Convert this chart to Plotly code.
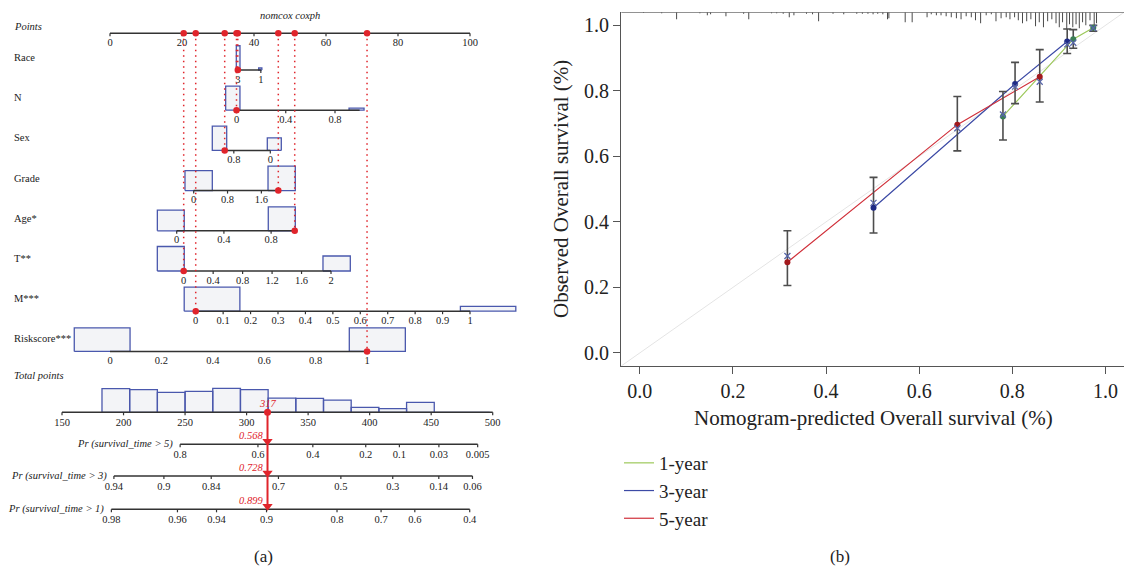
import numpy as np
import plotly.graph_objects as go

# ======================= DATA: nomogram =======================
VAR_NAMES = ["Race", "N", "Sex", "Grade", "Age*", "T**", "M***", "Riskscore***"]
# points given at value 0, and points per unit of each predictor
VAR_PTS0 = [45.1, 35.14, 44.53, 23.25, 18.53, 20.47, 23.81, 0.0]
VAR_SLOPE = [-3.2, 34.2, -12.67, 11.75, 32.78, 20.46, 76.19, 71.4]
VAR_RANGE = [[1, 3], [0, 1], [0, 1], [0, 2], [0, 1], [0, 2], [0, 1], [0, 1]]
VAR_TICKS = [
    [3, 1],
    [0, 0.4, 0.8],
    [0.8, 0],
    [0, 0.8, 1.6],
    [0, 0.4, 0.8],
    [0, 0.4, 0.8, 1.2, 1.6, 2],
    [0, 0.1, 0.2, 0.3, 0.4, 0.5, 0.6, 0.7, 0.8, 0.9, 1],
    [0, 0.2, 0.4, 0.6, 0.8, 1],
]
VAR_TICK_MARKS = [True, True, True, True, True, True, True, False]
VAR_SELECTED = [3, 0, 1, 2, 1, 0, 0, 1]
VAR_BOX_LO = [[2.81, 0.91], [-0.088, 0.914], [0.956, -0.241], [-0.206, 1.757],
              [-0.164, 0.776], [-0.358, 1.891], [-0.042, 0.965], [-0.139, 0.931]]
VAR_BOX_HI = [[3.13, 1.19], [0.028, 1.036], [1.272, 0.066], [0.44, 2.402],
              [0.064, 1.005], [0.008, 2.262], [0.161, 1.167], [0.078, 1.149]]
VAR_BOX_FREQ = [[0.97, 0.08], [0.96, 0.08], [0.97, 0.50], [0.80, 0.98],
                [0.83, 0.96], [0.98, 0.60], [0.96, 0.19], [0.94, 0.94]]

POINT_TICKS = [0, 20, 40, 60, 80, 100]

TOTAL_TICKS = [150, 200, 250, 300, 350, 400, 450, 500]
TOTAL_BIN_EDGES = [182.5, 205, 227.5, 250, 272.5, 295, 317.5, 340, 362.5,
                   385, 407.5, 430, 452.5, 475, 497.5]
TOTAL_BIN_FREQ = [0.95, 0.91, 0.80, 0.84, 0.96, 0.91, 0.57, 0.56, 0.49,
                  0.20, 0.15, 0.40, 0.03, 0.03]
TOTAL_SELECTED = 317

PROB_TITLES = ["Pr (survival_time > 5)", "Pr (survival_time > 3)", "Pr (survival_time > 1)"]
PROB_AT_SELECTED = [0.568, 0.728, 0.899]
PROB_TICKS = [
    [0.8, 0.6, 0.4, 0.2, 0.1, 0.03, 0.005],
    [0.94, 0.9, 0.84, 0.7, 0.5, 0.3, 0.14, 0.06],
    [0.98, 0.96, 0.94, 0.9, 0.8, 0.7, 0.6, 0.4],
]
LP_PER_POINT = 0.0131  # linear predictor per total point

# ======================= DATA: calibration =======================
CAL_LABELS = ["1-year", "3-year", "5-year"]
CAL_PRED = [[0.780, 0.931, 0.974], [0.502, 0.806, 0.918], [0.317, 0.682, 0.859]]
CAL_OBS = [[0.722, 0.958, 0.993], [0.443, 0.821, 0.951], [0.277, 0.697, 0.843]]
CAL_LO = [[0.650, 0.930, 0.982], [0.366, 0.761, 0.914], [0.206, 0.617, 0.766]]
CAL_HI = [[0.798, 0.987, 1.000], [0.536, 0.887, 0.989], [0.373, 0.783, 0.926]]
CAL_CORR = [[0.728, 0.947, 0.992], [0.458, 0.813, 0.942], [0.296, 0.686, 0.828]]

RUG_X = [0.008, 0.047, 0.079, 0.129, 0.145, 0.152, 0.185, 0.223, 0.234, 0.283,
         0.294, 0.308, 0.321, 0.331, 0.358, 0.371, 0.384, 0.415, 0.438, 0.466,
         0.478, 0.490, 0.501, 0.511, 0.522, 0.532, 0.535, 0.570, 0.585, 0.617,
         0.626, 0.637, 0.647, 0.658, 0.669, 0.680, 0.690, 0.701, 0.712, 0.721,
         0.732, 0.744, 0.755, 0.765, 0.776, 0.787, 0.795, 0.805, 0.813, 0.822,
         0.831, 0.840, 0.850, 0.858, 0.867, 0.876, 0.885, 0.894, 0.901, 0.908,
         0.917, 0.923, 0.930, 0.937, 0.944, 0.951, 0.958, 0.967, 0.976, 0.981]
RUG_N = [0.7, 1, 7, 1, 3, 2, 4, 1.5, 7, 1,
         1, 1.5, 5, 3, 1.5, 2, 9, 1.5, 2, 1.5,
         1.5, 1.5, 2, 1.5, 2, 7, 6, 10, 10, 5,
         2, 3, 3, 4, 5, 6, 7, 4, 5, 8,
         11, 3, 2, 9, 6, 5, 7, 5, 8, 11,
         9, 7, 14, 10, 15, 9, 7, 11, 15, 10,
         17, 12, 15, 12, 16, 10, 13, 8, 14, 11]

# ======================= STYLE / LAYOUT =======================
W, H = 1124, 571
FONT = "Liberation Serif"
TXT = "#222222"
RED = "#e0242b"
BOX_LINE = "#4a58ad"
BOX_FILL = "#f3f4f7"
AXC = "#333333"
NS = 10.5  # nomogram font size

PTS_Y = 33.3
ROW_Y0, ROW_STEP = 70.0, 40.2
TOT_Y = 412.3
PROB_Y = [444.3, 476.0, 509.3]
BOX_H = 25.0
TL = 3.0

PX_PER_PT = 3.6
PX_AT_PT0 = 110.0
PX_PER_TOT = 1.2306
PX_AT_TOT150 = 62.0
LEFT_W = 530.0

CAL_COLORS = ["#9cc85a", "#3c4aa5", "#d0303a"]
CAL_DOT = ["#3b7f55", "#1f2b86", "#a3191d"]


def vpts(i, v):
    return VAR_PTS0[i] + VAR_SLOPE[i] * v


def prob_tp(k, p):
    return TOTAL_SELECTED + (np.log(-np.log(p)) - np.log(-np.log(PROB_AT_SELECTED[k]))) / LP_PER_POINT


def fmt(v):
    return f"{v:g}"


def add_segments(fig, xs, ys, xaxis, color, width, dash="solid"):
    X, Y = [], []
    for (x0, x1), (y0, y1) in zip(xs, ys):
        X += [x0, x1, None]
        Y += [y0, y1, None]
    fig.add_trace(go.Scatter(x=X, y=Y, mode="lines", xaxis=xaxis, yaxis="y",
                             line=dict(color=color, width=width, dash=dash),
                             hoverinfo="skip", showlegend=False))


def add_text(fig, xs, ys, texts, xaxis="x", size=NS, color=TXT, style="normal",
             pos="middle center", yaxis="y"):
    fig.add_trace(go.Scatter(x=xs, y=ys, mode="text", text=texts, xaxis=xaxis, yaxis=yaxis,
                             textposition=pos,
                             textfont=dict(family=FONT, size=size, color=color, style=style),
                             hoverinfo="skip", showlegend=False))


fig = go.Figure()

# ---------- boxes (distribution of each predictor) ----------
BX, BY = [], []
for i in range(len(VAR_NAMES)):
    ry = ROW_Y0 + ROW_STEP * i
    for lo, hi, f in zip(VAR_BOX_LO[i], VAR_BOX_HI[i], VAR_BOX_FREQ[i]):
        a, b = vpts(i, lo), vpts(i, hi)
        h = f * BOX_H
        BX += [a, b, b, a, a, None]
        BY += [ry, ry, ry - h, ry - h, ry, None]
fig.add_trace(go.Scatter(x=BX, y=BY, mode="lines", fill="toself", fillcolor=BOX_FILL,
                         line=dict(color=BOX_LINE, width=1.3), xaxis="x", yaxis="y",
                         hoverinfo="skip", showlegend=False))

# total points histogram
HX, HY = [], []
for k, f in enumerate(TOTAL_BIN_FREQ):
    a, b = TOTAL_BIN_EDGES[k], TOTAL_BIN_EDGES[k + 1]
    h = f * BOX_H
    HX += [a, b, b, a, a, None]
    HY += [TOT_Y, TOT_Y, TOT_Y - h, TOT_Y - h, TOT_Y, None]
fig.add_trace(go.Scatter(x=HX, y=HY, mode="lines", fill="toself", fillcolor=BOX_FILL,
                         line=dict(color=BOX_LINE, width=1.3), xaxis="x2", yaxis="y",
                         hoverinfo="skip", showlegend=False))

# ---------- axis lines ----------
lx, ly = [(POINT_TICKS[0], POINT_TICKS[-1])], [(PTS_Y, PTS_Y)]
tx, ty = [], []
for t in POINT_TICKS:
    tx.append((t, t)); ty.append((PTS_Y, PTS_Y + TL))
for i in range(len(VAR_NAMES)):
    ry = ROW_Y0 + ROW_STEP * i
    lx.append((vpts(i, VAR_RANGE[i][0]), vpts(i, VAR_RANGE[i][1])))
    ly.append((ry, ry))
    if VAR_TICK_MARKS[i]:
        for t in VAR_TICKS[i]:
            tx.append((vpts(i, t), vpts(i, t))); ty.append((ry, ry + TL))
add_segments(fig, lx, ly, "x", AXC, 1.5)
add_segments(fig, tx, ty, "x", AXC, 1.2)

lx2, ly2, tx2, ty2 = [(TOTAL_TICKS[0], TOTAL_TICKS[-1])], [(TOT_Y, TOT_Y)], [], []
for t in TOTAL_TICKS:
    tx2.append((t, t)); ty2.append((TOT_Y, TOT_Y + TL))
for k in range(3):
    tps = [prob_tp(k, p) for p in PROB_TICKS[k]]
    lx2.append((tps[0], tps[-1])); ly2.append((PROB_Y[k], PROB_Y[k]))
    for t in tps:
        tx2.append((t, t)); ty2.append((PROB_Y[k], PROB_Y[k] + TL))
add_segments(fig, lx2, ly2, "x2", AXC, 1.5)
add_segments(fig, tx2, ty2, "x2", AXC, 1.2)

# ---------- tick labels ----------
add_text(fig, POINT_TICKS, [PTS_Y + 10] * len(POINT_TICKS), [fmt(t) for t in POINT_TICKS])
for i in range(len(VAR_NAMES)):
    ry = ROW_Y0 + ROW_STEP * i
    add_text(fig, [vpts(i, t) for t in VAR_TICKS[i]], [ry + 10] * len(VAR_TICKS[i]),
             [fmt(t) for t in VAR_TICKS[i]])
add_text(fig, TOTAL_TICKS, [TOT_Y + 11] * len(TOTAL_TICKS), [fmt(t) for t in TOTAL_TICKS], xaxis="x2")
for k in range(3):
    add_text(fig, [prob_tp(k, p) for p in PROB_TICKS[k]], [PROB_Y[k] + 11] * len(PROB_TICKS[k]),
             [fmt(p) for p in PROB_TICKS[k]], xaxis="x2")

# ---------- red dotted guide lines & dots ----------
dx, dy, px_, py_ = [], [], [], []
for i in range(len(VAR_NAMES)):
    ry = ROW_Y0 + ROW_STEP * i
    p = vpts(i, VAR_SELECTED[i])
    dx.append((p, p)); dy.append((PTS_Y, ry))
    px_ += [p, p]; py_ += [PTS_Y, ry]
add_segments(fig, dx, dy, "x", RED, 1.5, dash="1.5px,4px")
fig.add_trace(go.Scatter(x=px_, y=py_, mode="markers", xaxis="x", yaxis="y",
                         marker=dict(color=RED, size=6.5), hoverinfo="skip", showlegend=False))

# total -> probability red line
fig.add_trace(go.Scatter(x=[TOTAL_SELECTED, TOTAL_SELECTED], y=[TOT_Y, PROB_Y[-1]], mode="lines",
                         xaxis="x2", yaxis="y", line=dict(color=RED, width=2),
                         hoverinfo="skip", showlegend=False))
fig.add_trace(go.Scatter(x=[TOTAL_SELECTED], y=[TOT_Y], mode="markers", xaxis="x2", yaxis="y",
                         marker=dict(color=RED, size=7), hoverinfo="skip", showlegend=False))
fig.add_trace(go.Scatter(x=[TOTAL_SELECTED] * 3, y=[y - 3 for y in PROB_Y], mode="markers",
                         xaxis="x2", yaxis="y",
                         marker=dict(color=RED, size=9, symbol="triangle-down"),
                         hoverinfo="skip", showlegend=False))

annotations = []


def ann(text, x, y, xref="paper", yref="y", size=NS, color=TXT, style="normal",
        xanchor="center", xshift=0, textangle=0):
    annotations.append(dict(text=text, x=x, y=y, xref=xref, yref=yref, showarrow=False,
                            xanchor=xanchor, yanchor="middle", xshift=xshift, textangle=textangle,
                            font=dict(family=FONT, size=size, color=color, style=style)))


ann("nomcox coxph", 50, 15, xref="x", style="italic")
ann("Points", 12 / W, 26, style="italic", xanchor="left")
for i, name in enumerate(VAR_NAMES):
    ann(name, 12 / W, ROW_Y0 + ROW_STEP * i - 12.5, xanchor="left")
ann("Total points", 12 / W, 375, style="italic", xanchor="left")
for k in range(3):
    ann(PROB_TITLES[k], prob_tp(k, PROB_TICKS[k][0]), PROB_Y[k], xref="x2",
        style="italic", xanchor="right", xshift=-5)
    ann(fmt(PROB_AT_SELECTED[k]), TOTAL_SELECTED, PROB_Y[k] - 9, xref="x2",
        style="italic", color=RED, xanchor="right", xshift=-3)
ann(str(TOTAL_SELECTED), TOTAL_SELECTED, TOT_Y - 9, xref="x2", style="italic", color=RED)
ann("(a)", 263 / W, 556, size=17)

# ======================= calibration panel =======================
fig.add_trace(go.Scatter(x=[-0.04, 1.04], y=[-0.04, 1.04], mode="lines", xaxis="x3", yaxis="y3",
                         line=dict(color="#e4e4e4", width=1), hoverinfo="skip", showlegend=False))
# top frame line + rug of predicted probabilities
RX, RY = [-0.04, 1.04, None], [1.04, 1.04, None]
for x, n in zip(RUG_X, RUG_N):
    RX += [x, x, None]
    RY += [1.04, 1.04 - n / 328.8, None]
fig.add_trace(go.Scatter(x=RX, y=RY, mode="lines", xaxis="x3", yaxis="y3",
                         line=dict(color="#4a4a4a", width=1), hoverinfo="skip", showlegend=False))

for k in range(3):
    fig.add_trace(go.Scatter(x=CAL_PRED[k], y=CAL_OBS[k], mode="lines", name=CAL_LABELS[k],
                             xaxis="x3", yaxis="y3",
                             line=dict(color=CAL_COLORS[k], width=1.2), hoverinfo="skip"))
for k in range(3):
    fig.add_trace(go.Scatter(
        x=CAL_PRED[k], y=CAL_OBS[k], mode="markers", xaxis="x3", yaxis="y3",
        marker=dict(color=CAL_DOT[k], size=6),
        error_y=dict(type="data", symmetric=False,
                     array=[h - o for h, o in zip(CAL_HI[k], CAL_OBS[k])],
                     arrayminus=[o - l for o, l in zip(CAL_OBS[k], CAL_LO[k])],
                     color="#4d4d4d", thickness=1.6, width=4),
        hoverinfo="skip", showlegend=False))
    fig.add_trace(go.Scatter(x=CAL_PRED[k], y=CAL_CORR[k], mode="markers", xaxis="x3", yaxis="y3",
                             marker=dict(color="#5866a8", size=6, symbol="x-thin",
                                         line=dict(color="#5866a8", width=1.3)),
                             hoverinfo="skip", showlegend=False))

ann("Observed Overall survival (%)", 560.5 / W, 1 - 189.5 / H, yref="paper", size=21, textangle=-90)
ann("Nomogram-predicted Overall survival (%)", 873.5 / W, 1 - 418.3 / H, yref="paper", size=21)
ann("(b)", 840 / W, 1 - 556 / H, yref="paper", size=17)

cal_ticks = [0, 0.2, 0.4, 0.6, 0.8, 1.0]
cal_axis = dict(range=[-0.04, 1.04], showline=True, linecolor="#555555", linewidth=1.2,
                ticks="outside", ticklen=7, tickwidth=1.2, tickcolor="#555555",
                tickvals=cal_ticks, ticktext=[f"{t:.1f}" for t in cal_ticks],
                tickfont=dict(family=FONT, size=20, color=TXT),
                showgrid=False, zeroline=False, fixedrange=True)

fig.update_layout(
    width=W, height=H, margin=dict(l=0, r=0, t=0, b=0),
    paper_bgcolor="white", plot_bgcolor="rgba(0,0,0,0)",
    xaxis=dict(domain=[0, LEFT_W / W], range=[-PX_AT_PT0 / PX_PER_PT, (LEFT_W - PX_AT_PT0) / PX_PER_PT],
               visible=False, fixedrange=True),
    xaxis2=dict(domain=[0, LEFT_W / W], anchor="y", overlaying="x",
                range=[150 - PX_AT_TOT150 / PX_PER_TOT, 150 + (LEFT_W - PX_AT_TOT150) / PX_PER_TOT],
                visible=False, fixedrange=True),
    yaxis=dict(domain=[0, 1], range=[H, 0], visible=False, fixedrange=True),
    xaxis3=dict(domain=[621.2 / W, 1.0], anchor="y3", **cal_axis),
    yaxis3=dict(domain=[1 - 366 / H, 1 - 12.3 / H], anchor="x3", **cal_axis),
    legend=dict(x=619 / W, y=1 - 444 / H, xanchor="left", yanchor="top",
                font=dict(family=FONT, size=19, color=TXT), bgcolor="rgba(0,0,0,0)",
                tracegroupgap=0, itemwidth=30),
    annotations=annotations,
    showlegend=True,
)

fig.write_html("out.html", config={"displayModeBar": False},
               post_script="document.body.style.margin='0';document.body.style.overflow='hidden';")
